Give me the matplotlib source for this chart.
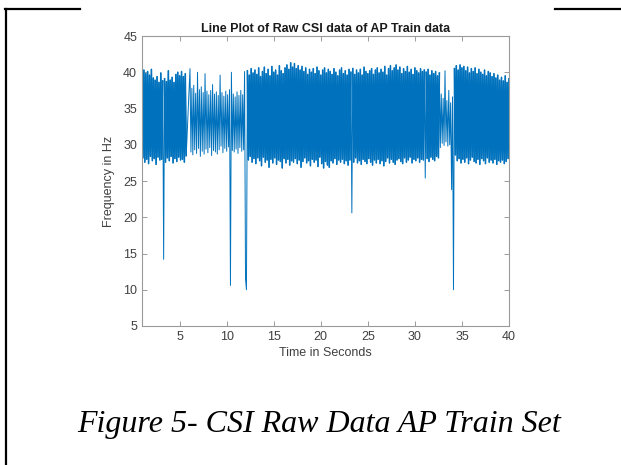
import numpy as np
import matplotlib
matplotlib.use('Agg')
import matplotlib.pyplot as plt
from matplotlib.lines import Line2D

# CSI readings (Hz) in three stretches
# first stretch: 1.0 s - 5.7 s, step 0.1 s
seg_a_start, seg_a_end = 1.0, 5.7
seg_a_hz = [40.0, 28.2, 40.3, 27.6, 39.8, 28.0, 40.1, 27.4, 39.6, 28.4,
            40.4, 27.8, 39.2, 28.1, 38.9, 27.3, 39.4, 28.3, 38.6, 27.9,
            39.9, 28.0, 38.8, 14.2, 39.1, 27.6, 38.7, 28.2, 40.2, 27.8,
            38.9, 28.4, 39.3, 27.5, 38.6, 28.1, 39.7, 27.7, 40.0, 28.3,
            39.5, 27.9, 40.1, 28.0, 39.4, 27.6, 39.8, 28.5]

# second stretch: 6.1 s - 12.1 s, step 0.1 s (the lighter, sparser part)
seg_b_start, seg_b_end = 6.1, 12.1
seg_b_hz = [40.5, 29.0, 37.8, 28.6, 38.2, 29.3, 37.1, 28.8, 40.0, 29.5,
            37.6, 28.4, 38.0, 29.1, 37.2, 28.7, 39.8, 29.4, 37.4, 28.9,
            36.9, 29.6, 37.5, 28.5, 38.3, 29.2, 37.0, 29.0, 37.3, 28.7,
            36.8, 29.3, 39.6, 29.8, 37.2, 28.9, 36.7, 29.5, 37.4, 29.1,
            36.9, 29.7, 37.6, 10.6, 40.0, 29.2, 37.0, 29.0, 36.6, 29.4,
            37.3, 28.8, 36.8, 29.6, 37.5, 29.1, 36.9, 29.3, 40.1, 11.5,
            10.0]

# third stretch: 12.2 s - 40.0 s, step 0.1 s
seg_c_start, seg_c_end = 12.2, 40.0
seg_c_hz = [40.2, 27.9, 39.6, 28.4, 40.5, 27.6, 39.9, 28.1, 40.3, 27.4,
            39.7, 28.2, 40.6, 27.8, 39.4, 27.1, 40.1, 28.3, 40.7, 27.6,
            39.8, 27.9, 40.4, 26.9, 39.5, 28.0, 40.8, 27.5, 40.0, 28.2,
            40.3, 27.3, 39.6, 27.9, 40.9, 27.7, 40.2, 26.8, 39.8, 28.1,
            40.6, 27.5, 41.0, 28.0, 40.4, 27.2, 41.3, 27.8, 40.7, 27.6,
            41.2, 28.1, 40.5, 27.4, 40.9, 27.9, 40.3, 26.9, 40.8, 27.7,
            40.1, 28.2, 40.6, 27.5, 39.7, 27.8, 40.4, 27.1, 40.0, 28.0,
            40.5, 27.6, 39.8, 27.9, 40.7, 27.0, 40.2, 28.3, 39.6, 27.4,
            40.3, 26.8, 40.6, 27.7, 39.9, 27.2, 40.4, 26.9, 40.1, 27.8,
            39.7, 27.5, 40.5, 28.1, 40.0, 27.3, 39.5, 27.9, 40.3, 27.6,
            40.6, 28.0, 39.8, 27.4, 40.2, 27.8, 39.6, 27.2, 40.4, 27.9,
            40.0, 20.6, 40.5, 27.6, 39.7, 28.2, 40.3, 27.5, 39.9, 27.8,
            40.4, 27.3, 39.6, 28.0, 40.7, 27.7, 40.1, 27.4, 39.8, 28.1,
            40.2, 27.6, 40.5, 27.2, 39.7, 27.9, 40.3, 27.5, 40.6, 28.0,
            39.9, 27.4, 40.4, 27.8, 40.0, 27.1, 40.8, 27.7, 39.6, 28.2,
            40.5, 27.5, 40.9, 28.0, 40.2, 27.6, 40.6, 27.3, 41.0, 27.9,
            40.3, 28.1, 40.7, 27.7, 39.8, 27.4, 40.5, 28.2, 40.1, 27.6,
            40.8, 27.9, 40.0, 28.3, 40.4, 27.5, 39.7, 28.0, 40.6, 27.8,
            40.2, 28.2, 39.9, 27.6, 40.5, 28.0, 40.1, 27.9, 40.3, 25.4,
            40.0, 28.1, 40.4, 27.7, 39.6, 28.3, 40.2, 28.0, 39.8, 27.8,
            40.1, 28.4, 39.5, 28.2, 39.9, 29.6, 37.0, 30.2, 36.4, 29.9,
            40.2, 30.4, 36.1, 29.8, 37.5, 30.0, 35.8, 23.8, 36.6, 10.0,
            40.5, 28.6, 40.9, 27.8, 40.3, 28.1, 41.0, 27.5, 40.6, 28.0,
            40.8, 27.6, 40.2, 28.2, 40.7, 27.4, 39.9, 27.9, 40.5, 28.3,
            40.1, 27.7, 40.6, 27.5, 39.8, 28.0, 40.4, 27.3, 40.0, 28.1,
            39.7, 27.8, 40.3, 27.4, 39.5, 28.2, 40.1, 27.6, 39.9, 27.9,
            39.4, 27.5, 39.8, 28.0, 39.2, 27.3, 39.6, 27.8, 38.9, 27.6,
            39.3, 27.9, 38.8, 27.4, 39.5, 27.7, 38.6, 28.1, 39.1]

x_ticks = [5, 10, 15, 20, 25, 30, 35, 40]
y_ticks = [5, 10, 15, 20, 25, 30, 35, 40, 45]

t = np.concatenate([np.linspace(seg_a_start, seg_a_end, len(seg_a_hz)),
                    np.linspace(seg_b_start, seg_b_end, len(seg_b_hz)),
                    np.linspace(seg_c_start, seg_c_end, len(seg_c_hz))])
hz = np.array(seg_a_hz + seg_b_hz + seg_c_hz)

# thicker stroke only where the original trace is packed solid
solid = ((t <= seg_a_end) | ((t >= seg_c_start) & (t <= 32.65)) | (t >= 34.15)) & (hz > 26.5)
hz_solid = np.ma.masked_where(~solid, hz)

plt.rcParams['font.family'] = ['Liberation Sans', 'DejaVu Sans']

fig = plt.figure(figsize=(6.21, 4.65), dpi=100)
ax = fig.add_axes([142 / 621, 1 - 326 / 465, 367 / 621, 290 / 465])

ax.plot(t, hz, color='#0072BD', lw=0.7)
ax.plot(t, hz_solid, color='#0072BD', lw=1.15)

ax.set_xlim(1.0, 40)
ax.set_ylim(5, 45)
ax.set_xticks(x_ticks)
ax.set_yticks(y_ticks)
ax.tick_params(direction='in', length=3.5, width=0.6, color='#8c8c8c',
               labelcolor='#404040', labelsize=9, top=True, right=True)
for s in ax.spines.values():
    s.set_color('#9a9a9a')
    s.set_linewidth(0.8)

ax.set_title('Line Plot of Raw CSI data of AP Train data', fontsize=9,
             fontweight='bold', color='#1a1a1a', pad=3)
ax.set_xlabel('Time in Seconds', fontsize=9, color='#404040', labelpad=3)
ax.set_ylabel('Frequency in Hz', fontsize=9, color='#404040', labelpad=6)

# caption under the chart
fig.text(77 / 621, 1 - 432 / 465, 'Figure 5- CSI Raw Data AP Train Set',
         family='Liberation Serif', style='italic', fontsize=23,
         ha='left', va='baseline', color='black')

# page frame lines
fig.add_artist(Line2D([6 / 621, 6 / 621], [0, 1 - 9 / 465],
                      transform=fig.transFigure, color='black', lw=1.6))
fig.add_artist(Line2D([5 / 621, 80 / 621], [1 - 9 / 465, 1 - 9 / 465],
                      transform=fig.transFigure, color='black', lw=1.6))
fig.add_artist(Line2D([555 / 621, 1], [1 - 9 / 465, 1 - 9 / 465],
                      transform=fig.transFigure, color='black', lw=1.6))

plt.savefig('out.png', dpi=100)
